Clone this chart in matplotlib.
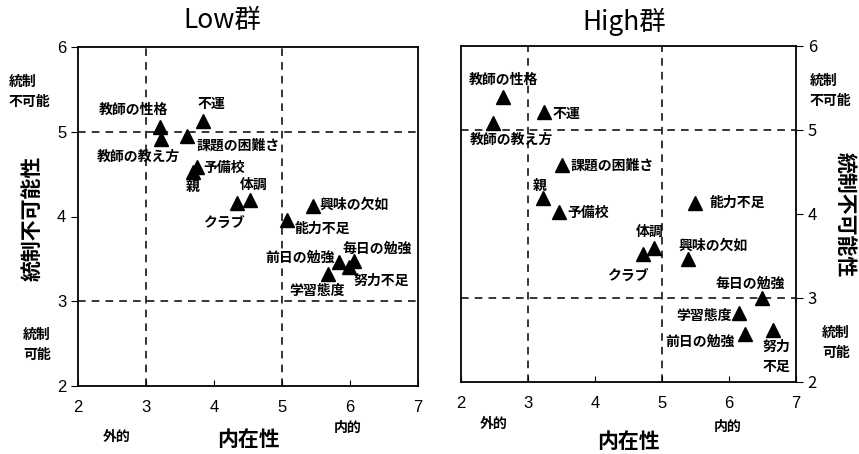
import matplotlib.pyplot as plt

plt.rcParams['font.family'] = ['Noto Sans CJK JP', 'DejaVu Sans']

# Low群: 内在性 (x) と 統制不可能性 (y)
low_items = ['教師の性格', '教師の教え方', '課題の困難さ', '不運', '予備校', '親', '体調',
             'クラブ', '興味の欠如', '能力不足', '前日の勉強', '毎日の勉強', '努力不足', '学習態度']
low_x = [3.21, 3.22, 3.60, 3.84, 3.75, 3.69, 4.53, 4.34, 5.46, 5.07, 5.84, 6.06, 5.99, 5.68]
low_y = [5.06, 4.92, 4.95, 5.13, 4.58, 4.52, 4.20, 4.16, 4.12, 3.96, 3.46, 3.47, 3.40, 3.32]

# High群
high_items = ['教師の性格', '教師の教え方', '不運', '課題の困難さ', '親', '予備校', '能力不足',
              '体調', 'クラブ', '興味の欠如', '毎日の勉強', '学習態度', '前日の勉強', '努力\n不足']
high_x = [2.63, 2.48, 3.24, 3.51, 3.22, 3.46, 5.49, 4.88, 4.72, 5.39, 6.49, 6.15, 6.24, 6.66]
high_y = [5.39, 5.08, 5.21, 4.58, 4.19, 4.02, 4.13, 3.60, 3.52, 3.46, 3.00, 2.82, 2.57, 2.62]

ticks = [2, 3, 4, 5, 6, 7]
yticks = [2, 3, 4, 5, 6]

# label placement (dx, dy in pixels, dy downward) and alignment
low_offsets = [(-27, -17, 'center'), (-23, 18, 'center'), (10, 10, 'left'), (8, -17, 'center'),
               (6, 1, 'left'), (0, 15, 'center'), (4, -15, 'center'), (-13, 20, 'center'),
               (6, -2, 'left'), (8, 9, 'left'), (-4, -5, 'right'), (23, -13, 'center'),
               (32, 13, 'center'), (-11, 17, 'center')]
high_offsets = [(0, -17, 'center'), (18, 17, 'center'), (8, 2, 'left'), (8, 0, 'left'),
                (-3, -12, 'center'), (9, 1, 'left'), (15, 0, 'left'), (-4, -16, 'center'),
                (-15, 21, 'center'), (25, -14, 'center'), (-12, -14, 'center'), (-7, 3, 'right'),
                (-10, 8, 'right'), (3, 27, 'center')]

W, H = 859, 454
fig = plt.figure(figsize=(W / 100, H / 100), dpi=100)


def px_axes(x0, y0, x1, y1):
    return fig.add_axes([x0 / W, 1 - y1 / H, (x1 - x0) / W, (y1 - y0) / H])


def ftext(x, y, s, **kw):
    fig.text(x / W, 1 - y / H, s, **kw)


def draw_panel(ax, xs, ys, items, offsets, right=False):
    ax.set_xlim(2, 7)
    ax.set_ylim(2, 6)
    ax.set_xticks(ticks)
    ax.set_yticks(yticks)
    for v in [3, 5]:
        ax.axvline(v, color='black', lw=1.1, ls=(0, (5, 4)))
        ax.axhline(v, color='black', lw=1.1, ls=(0, (5, 4)))
    ax.plot(xs, ys, '^', color='black', markersize=10, ls='none')
    for name, x, y, (dx, dy, ha) in zip(items, xs, ys, offsets):
        ax.annotate(name, (x, y), xytext=(dx, -dy), textcoords='offset pixels',
                    ha=ha, va='center', fontsize=10, fontweight='bold', linespacing=1.5)
    for s in ax.spines.values():
        s.set_linewidth(1.3)
    ax.tick_params(axis='x', direction='in', length=4, pad=10, labelsize=12)
    ax.tick_params(axis='y', direction='out', length=5, labelsize=12)
    for lab in ax.get_xticklabels() + ax.get_yticklabels():
        lab.set_family('Liberation Sans')
    if right:
        ax.yaxis.tick_right()


ax1 = px_axes(78, 47, 418, 386)
draw_panel(ax1, low_x, low_y, low_items, low_offsets)
ax2 = px_axes(461, 46, 796, 382)
draw_panel(ax2, high_x, high_y, high_items, high_offsets, right=True)

ftext(222, 20, 'Low群', fontsize=19, ha='center', va='center')
ftext(624, 22, 'High群', fontsize=19, ha='center', va='center')

ftext(32, 218, '統制不可能性', fontsize=15, fontweight='bold', rotation=90, ha='center', va='center')
ftext(845, 215, '統制不可能性', fontsize=15, fontweight='bold', rotation=-90, ha='center', va='center')

ftext(9, 92, '統制\n不可能', fontsize=10, fontweight='bold', ha='left', va='center', linespacing=1.6)
ftext(23, 345, '統制\n可能', fontsize=10, fontweight='bold', ha='left', va='center', linespacing=1.6)
ftext(810, 91, '統制\n不可能', fontsize=10, fontweight='bold', ha='left', va='center', linespacing=1.6)
ftext(822, 343, '統制\n可能', fontsize=10, fontweight='bold', ha='left', va='center', linespacing=1.6)

ftext(117, 437, '外的', fontsize=10, fontweight='bold', ha='center', va='center')
ftext(248, 440, '内在性', fontsize=15, fontweight='bold', ha='center', va='center')
ftext(348, 428, '内的', fontsize=10, fontweight='bold', ha='center', va='center')
ftext(494, 424, '外的', fontsize=10, fontweight='bold', ha='center', va='center')
ftext(628, 442, '内在性', fontsize=15, fontweight='bold', ha='center', va='center')
ftext(728, 427, '内的', fontsize=10, fontweight='bold', ha='center', va='center')

fig.savefig('out.png', dpi=100)
